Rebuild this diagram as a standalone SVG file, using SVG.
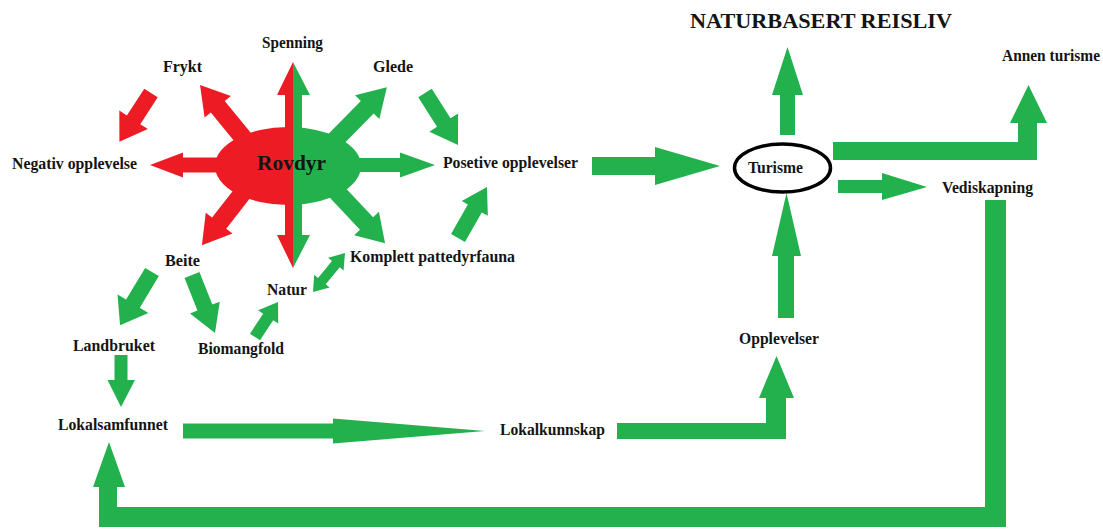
<svg xmlns="http://www.w3.org/2000/svg" width="1103" height="529" viewBox="0 0 1103 529">
<style>
.t{font-family:"Liberation Serif","Times New Roman",serif;font-weight:bold;font-size:16px;fill:#141414}
.g{fill:#22B14C}
.r{fill:#ED1C24}
</style>
<defs>
<clipPath id="cl"><rect x="0" y="0" width="293" height="529"/></clipPath>
<clipPath id="cr"><rect x="293" y="0" width="810" height="529"/></clipPath>
</defs>
<rect width="1103" height="529" fill="#fff"/>

<g id="connectors">
  <!-- red arrows from Rovdyr -->
  <polygon class="r" transform="translate(245,140) rotate(-129.3)" points="0,-9 43,-9 43,-17 71,0 43,17 43,9 0,9"/>
  <polygon class="r" transform="translate(220,165) rotate(180)" points="0,-7.5 37,-7.5 37,-12.5 70,0 37,12.5 37,7.5 0,7.5"/>
  <polygon class="r" transform="translate(245,190) rotate(128)" points="0,-9 42,-9 42,-17 70,0 42,17 42,9 0,9"/>
  <polygon class="r" transform="translate(151,93) rotate(123)" points="0,-8 32,-8 32,-17 58,0 32,17 32,8 0,8"/>
  <!-- green arrows from Rovdyr -->
  <polygon class="g" transform="translate(335,140) rotate(-45.5)" points="0,-9 46,-9 46,-17 74,0 46,17 46,9 0,9"/>
  <polygon class="g" transform="translate(350,165)" points="0,-7 50,-7 50,-12.5 85,0 50,12.5 50,7 0,7"/>
  <polygon class="g" transform="translate(335,190) rotate(46.7)" points="0,-9 46,-9 46,-17 73,0 46,17 46,9 0,9"/>
  <!-- Spenning double arrow split -->
  <polygon class="r" points="293,62 277,95 285,95 285,235 277,235 293,268"/>
  <polygon class="g" points="293,62 310,95 302,95 302,235 310,235 293,268"/>
  <!-- Glede -> Posetive, Komplett -> Posetive -->
  <polygon class="g" transform="translate(425,93) rotate(57.6)" points="0,-8 35,-8 35,-17 61.6,0 35,17 35,8 0,8"/>
  <polygon class="g" transform="translate(458,238) rotate(-60.4)" points="0,-8 34,-8 34,-15 58.7,0 34,15 34,8 0,8"/>
  <!-- Natur <-> Komplett -->
  <polygon class="g" transform="translate(313,292) rotate(-50.6)" points="0,0 14,-10 14,-5 36,-5 36,-10 50.4,0 36,10 36,5 14,5 14,10"/>
  <!-- Beite -> Landbruket, Beite -> Biomangfold, Biomangfold -> Natur -->
  <polygon class="g" transform="translate(152,272) rotate(121)" points="0,-8 37,-8 37,-18 62,0 37,18 37,8 0,8"/>
  <polygon class="g" transform="translate(192,275) rotate(68.4)" points="0,-8 35,-8 35,-16 62.4,0 35,16 35,8 0,8"/>
  <polygon class="g" transform="translate(255,337) rotate(-56.7)" points="0,-6 24,-6 24,-12 42,0 24,12 24,6 0,6"/>
  <!-- Landbruket -> Lokalsamfunnet -->
  <polygon class="g" points="114.5,355 127.5,355 127.5,380 135,380 121,407 107.5,380 114.5,380"/>
  <!-- Lokalsamfunnet -> Lokalkunnskap -->
  <polygon class="g" points="183,423.5 333,423.5 333,418.5 485,431 333,443.5 333,438.5 183,438.5"/>
  <!-- Lokalkunnskap -> Opplevelser -->
  <polygon class="g" points="617,423 766,423 766,398 759,398 776.5,356 794,398 786,398 786,439 617,439"/>
  <!-- Opplevelser -> Turisme -->
  <polygon class="g" points="778,318 778,256 772,256 786.5,193 801,256 794,256 794,318"/>
  <!-- Turisme -> up -->
  <polygon class="g" points="780,135 780,95 772,95 787.5,47 803,95 795,95 795,135"/>
  <!-- Posetive -> Turisme -->
  <polygon class="g" points="592,157 655,157 655,147 720,166 655,185 655,175 592,175"/>
  <!-- Turisme -> Annen turisme -->
  <polygon class="g" points="833,142 1018,142 1018,123 1010,123 1028.5,85 1047,123 1037,123 1037,160 833,160"/>
  <!-- Turisme -> Vediskapning -->
  <polygon class="g" points="838,180 882,180 882,173 927,187 882,200 882,193 838,193"/>
  <!-- Vediskapning -> Lokalsamfunnet loop -->
  <polygon class="g" points="985,200 1006,200 1006,527 99,527 99,487 93,487 109,442 125,487 117,487 117,507 985,507"/>
</g>

<g id="node-rovdyr">
  <ellipse cx="288" cy="166" rx="73" ry="39" class="r" clip-path="url(#cl)"/>
  <ellipse cx="288" cy="166" rx="73" ry="39" class="g" clip-path="url(#cr)"/>
  <text class="t" x="257" y="170" textLength="69" lengthAdjust="spacingAndGlyphs" style="font-size:21px">Rovdyr</text>
</g>
<g id="node-spenning"><text class="t" x="262" y="48" textLength="61" lengthAdjust="spacingAndGlyphs">Spenning</text></g>
<g id="node-frykt"><text class="t" x="163" y="72" textLength="39" lengthAdjust="spacingAndGlyphs">Frykt</text></g>
<g id="node-glede"><text class="t" x="373" y="72" textLength="40" lengthAdjust="spacingAndGlyphs">Glede</text></g>
<g id="node-negativ"><text class="t" x="12" y="169" textLength="125" lengthAdjust="spacingAndGlyphs">Negativ opplevelse</text></g>
<g id="node-posetive"><text class="t" x="443" y="168" textLength="135" lengthAdjust="spacingAndGlyphs">Posetive opplevelser</text></g>
<g id="node-beite"><text class="t" x="165" y="266" textLength="35" lengthAdjust="spacingAndGlyphs">Beite</text></g>
<g id="node-komplett"><text class="t" x="350" y="262" textLength="165" lengthAdjust="spacingAndGlyphs">Komplett pattedyrfauna</text></g>
<g id="node-natur"><text class="t" x="267" y="295" textLength="40" lengthAdjust="spacingAndGlyphs">Natur</text></g>
<g id="node-landbruket"><text class="t" x="73" y="351" textLength="82" lengthAdjust="spacingAndGlyphs">Landbruket</text></g>
<g id="node-biomangfold"><text class="t" x="198" y="354" textLength="86" lengthAdjust="spacingAndGlyphs">Biomangfold</text></g>
<g id="node-lokalsamfunnet"><text class="t" x="58" y="430" textLength="110" lengthAdjust="spacingAndGlyphs">Lokalsamfunnet</text></g>
<g id="node-lokalkunnskap"><text class="t" x="500" y="435" textLength="105" lengthAdjust="spacingAndGlyphs">Lokalkunnskap</text></g>
<g id="node-opplevelser"><text class="t" x="739" y="344" textLength="80" lengthAdjust="spacingAndGlyphs">Opplevelser</text></g>
<g id="node-turisme">
  <ellipse cx="782.5" cy="168" rx="48" ry="24" fill="#fff" stroke="#000" stroke-width="3.5"/>
  <text class="t" x="748" y="173" textLength="55" lengthAdjust="spacingAndGlyphs">Turisme</text>
</g>
<g id="node-vediskapning"><text class="t" x="942" y="193" textLength="91" lengthAdjust="spacingAndGlyphs">Vediskapning</text></g>
<g id="node-annen"><text class="t" x="1002" y="61" textLength="98" lengthAdjust="spacingAndGlyphs">Annen turisme</text></g>
<g id="node-title"><text class="t" x="690" y="28" textLength="262" lengthAdjust="spacingAndGlyphs" style="font-size:22px">NATURBASERT REISLIV</text></g>
</svg>
